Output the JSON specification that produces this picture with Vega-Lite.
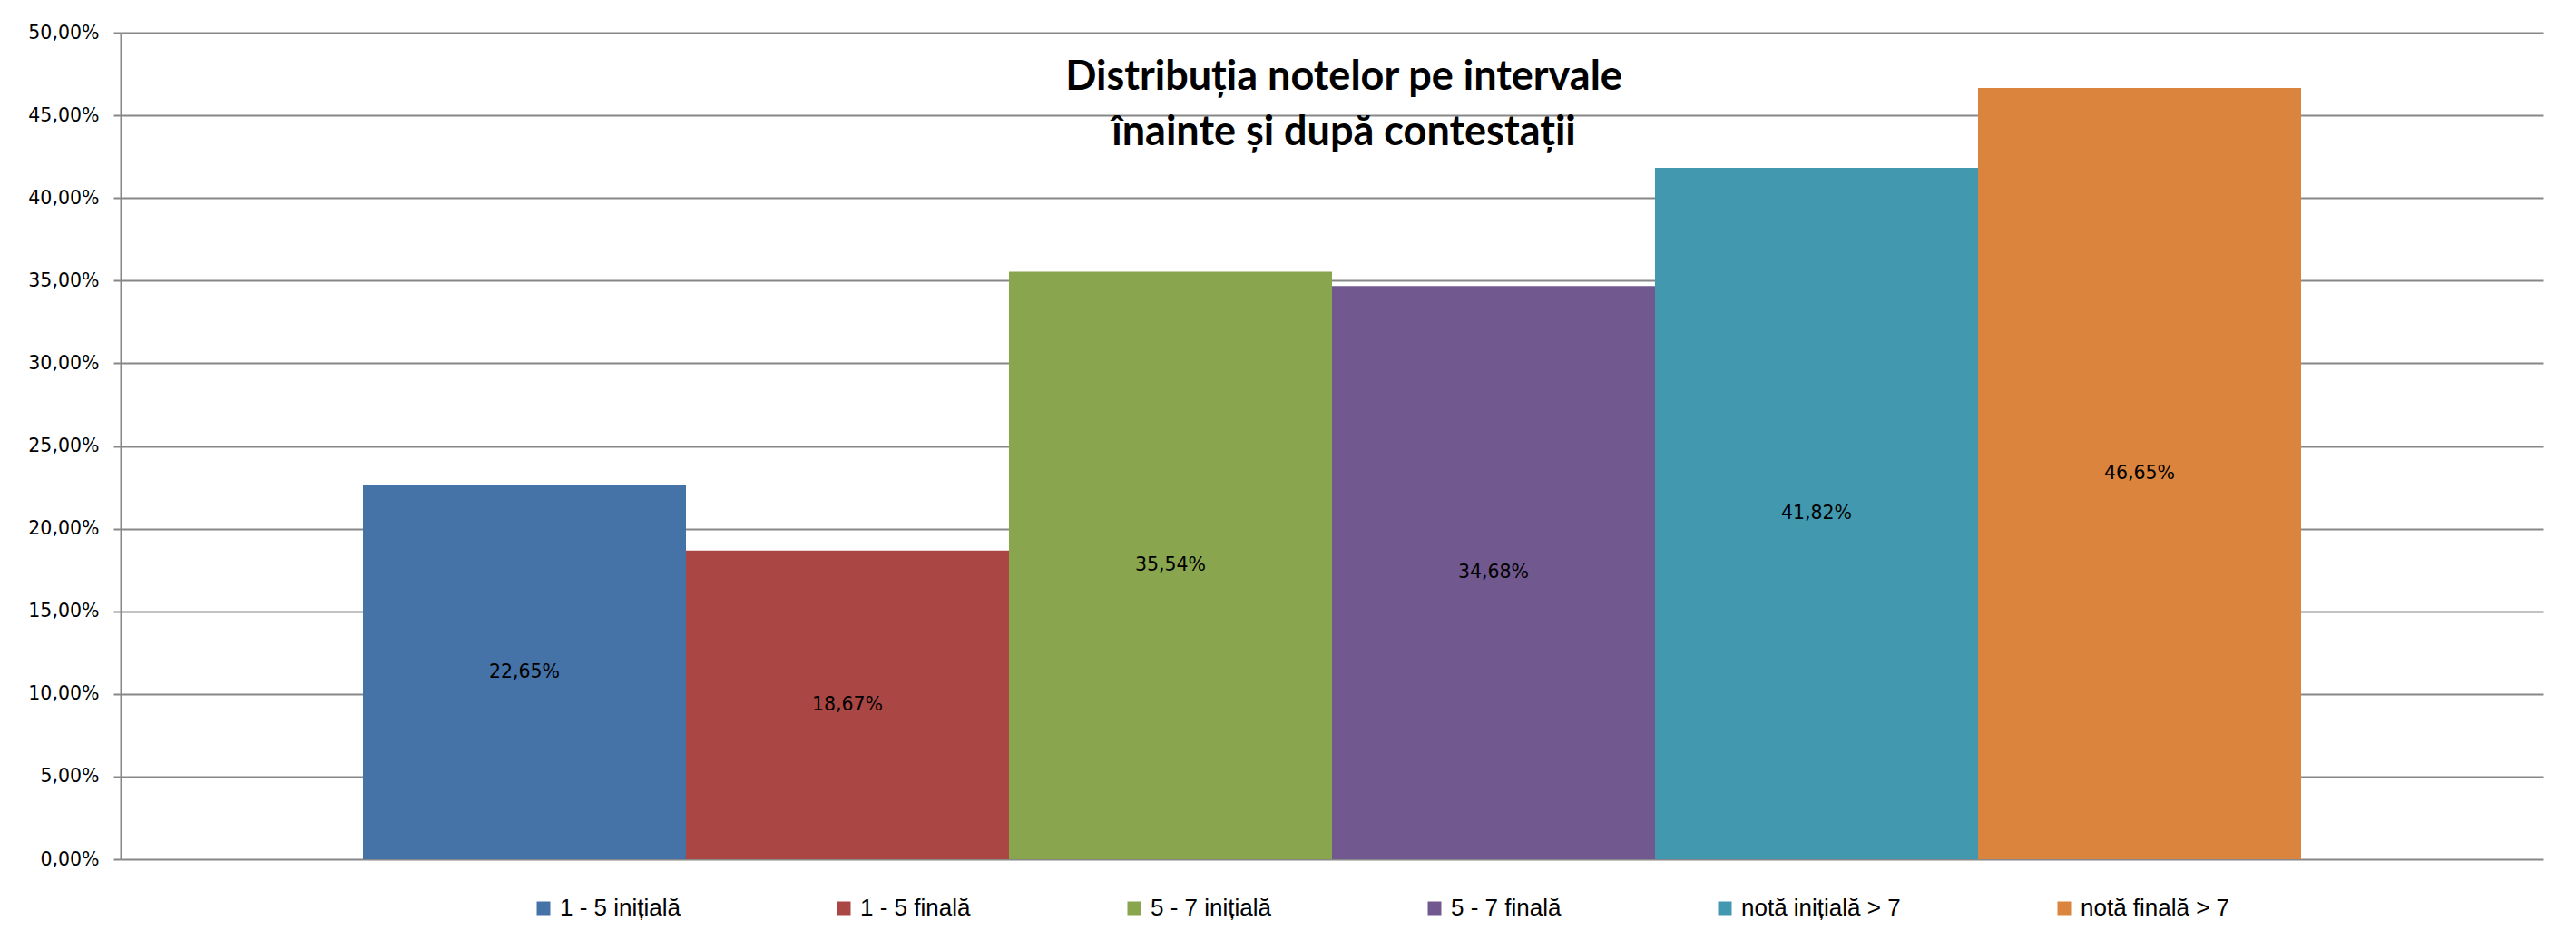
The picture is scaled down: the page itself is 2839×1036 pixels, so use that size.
{
  "$schema": "https://vega.github.io/schema/vega-lite/v6.json",
  "width": 2670,
  "height": 911,
  "autosize": {"type": "none"},
  "padding": {"left": 133, "top": 36, "right": 36, "bottom": 89},
  "background": "white",
  "title": {
    "text": ["Distribuția notelor pe intervale", "înainte și după contestații"],
    "font": "Lato",
    "fontSize": 45,
    "fontWeight": "bold",
    "color": "black",
    "anchor": "middle",
    "frame": "group",
    "orient": "top",
    "offset": -143,
    "lineHeight": 61,
    "dx": 13
  },
  "data": {
    "values": [
      {"serie": "1 - 5 inițială", "procent": 0.2265},
      {"serie": "1 - 5 finală", "procent": 0.1867},
      {"serie": "5 - 7 inițială", "procent": 0.3554},
      {"serie": "5 - 7 finală", "procent": 0.3468},
      {"serie": "notă inițială > 7", "procent": 0.4182},
      {"serie": "notă finală > 7", "procent": 0.4665}
    ]
  },
  "layer": [
    {
      "mark": {"type": "bar"},
      "encoding": {
        "x": {
          "field": "serie",
          "type": "nominal",
          "sort": null,
          "scale": {"paddingInner": 0, "paddingOuter": 0.75},
          "axis": null
        },
        "y": {
          "field": "procent",
          "type": "quantitative",
          "scale": {"domain": [0, 0.5], "nice": false},
          "axis": {
            "values": [0, 0.05, 0.1, 0.15, 0.2, 0.25, 0.3, 0.35, 0.4, 0.45, 0.5],
            "format": ".2%",
            "title": null,
            "labelFont": "DejaVu Sans",
            "labelFontSize": 20.5,
            "labelColor": "black",
            "labelPadding": 16,
            "labelFlush": false,
            "tickSize": 8,
            "tickColor": "#878787",
            "tickWidth": 2,
            "domainColor": "#878787",
            "domainWidth": 2,
            "gridColor": "#878787",
            "gridWidth": 2
          }
        },
        "color": {
          "field": "serie",
          "type": "nominal",
          "sort": null,
          "scale": {
            "domain": ["1 - 5 inițială", "1 - 5 finală", "5 - 7 inițială", "5 - 7 finală", "notă inițială > 7", "notă finală > 7"],
            "range": ["#4572A7", "#AA4643", "#89A54E", "#71588F", "#4198AF", "#DB843D"]
          },
          "legend": {
            "orient": "none",
            "legendX": 453,
            "legendY": 952,
            "direction": "horizontal",
            "columns": 6,
            "title": null,
            "symbolType": "square",
            "symbolSize": 225,
            "symbolStrokeWidth": 0,
            "labelFont": "Liberation Sans",
            "labelFontSize": 26,
            "labelColor": "black",
            "labelOffset": 5,
            "columnPadding": 167,
            "gridAlign": "each",
            "labelLimit": 400
          }
        }
      }
    },
    {
      "mark": {"type": "text", "font": "DejaVu Sans", "fontSize": 20.5, "color": "black", "baseline": "middle"},
      "encoding": {
        "x": {"field": "serie", "type": "nominal", "sort": null, "axis": null},
        "y": {"field": "procent", "type": "quantitative", "scale": {"domain": [0, 1], "nice": false}, "axis": null},
        "text": {"field": "procent", "type": "quantitative", "format": ".2%"}
      }
    }
  ],
  "resolve": {"scale": {"y": "independent"}},
  "config": {
    "locale": {"number": {"decimal": ",", "thousands": ".", "grouping": [3], "currency": ["", " lei"]}},
    "view": {"stroke": null}
  }
}
